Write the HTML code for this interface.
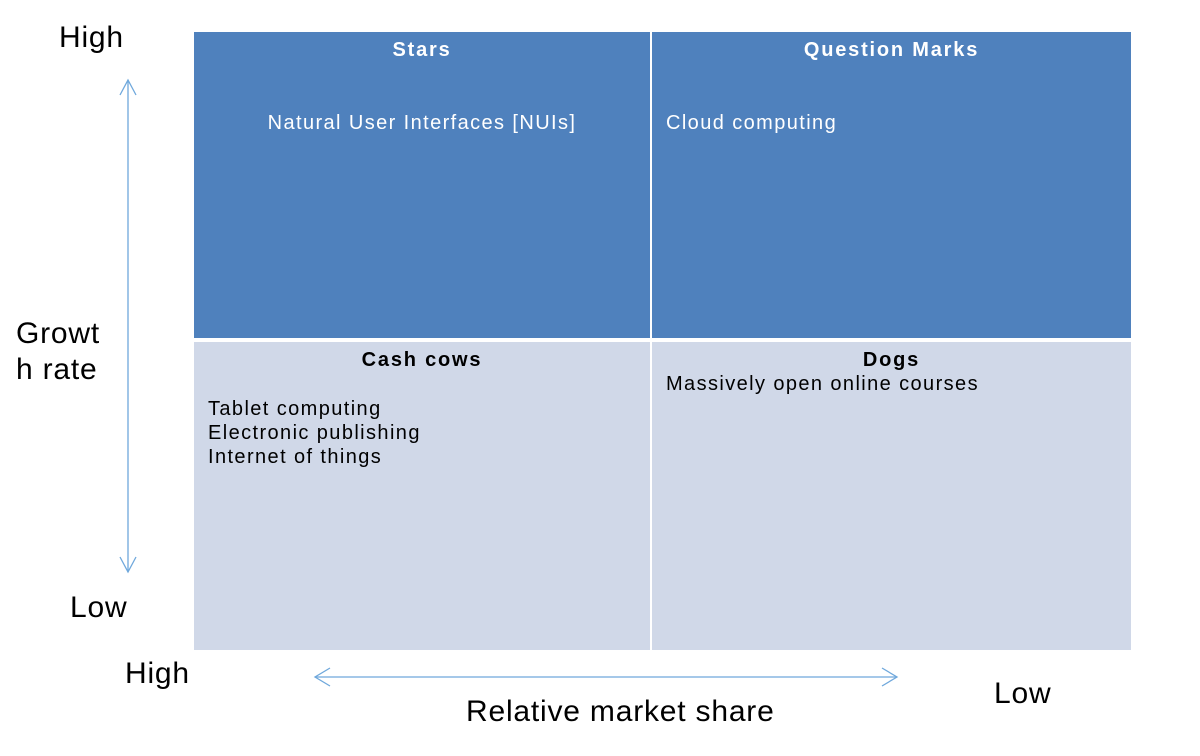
<!DOCTYPE html>
<html><head><style>
body{margin:0;width:1200px;height:756px;background:#fff;position:relative;overflow:hidden;font-family:"Liberation Sans",Arial,sans-serif}
.c{position:absolute}
.t{position:absolute;white-space:nowrap}
.big{font-size:30px;color:#000;letter-spacing:0.8px}
.w{color:#fff;font-size:20px;letter-spacing:1.4px}
.k{color:#000;font-size:20px;letter-spacing:1.4px}
b{font-weight:bold;letter-spacing:1.8px}
</style></head><body>
<div class="c" style="left:194px;top:32px;width:456px;height:306px;background:#4F81BD"></div>
<div class="c" style="left:652px;top:32px;width:479px;height:306px;background:#4F81BD"></div>
<div class="c" style="left:194px;top:342px;width:456px;height:308px;background:#D0D8E8"></div>
<div class="c" style="left:652px;top:342px;width:479px;height:308px;background:#D0D8E8"></div>

<div class="t w" style="left:194px;width:456px;text-align:center;top:39px"><b>Stars</b></div>
<div class="t w" style="left:194px;width:456px;text-align:center;top:112px">Natural User Interfaces [NUIs]</div>
<div class="t w" style="left:652px;width:479px;text-align:center;top:39px"><b>Question Marks</b></div>
<div class="t w" style="left:666px;top:112px">Cloud computing</div>
<div class="t k" style="left:194px;width:456px;text-align:center;top:349px"><b>Cash cows</b></div>
<div class="t k" style="left:208px;top:397px;line-height:24px">Tablet computing<br>Electronic publishing<br>Internet of things</div>
<div class="t k" style="left:652px;width:479px;text-align:center;top:349px"><b>Dogs</b></div>
<div class="t k" style="left:666px;top:373px">Massively open online courses</div>

<div class="t big" style="left:59px;top:21px">High</div>
<div class="t big" style="left:16px;top:316px;line-height:36px">Growt<br>h rate</div>
<div class="t big" style="left:70px;top:591px">Low</div>
<div class="t big" style="left:125px;top:657px">High</div>
<div class="t big" style="left:994px;top:677px">Low</div>
<div class="t big" style="left:466px;top:695px">Relative market share</div>

<svg class="c" style="left:0;top:0" width="1200" height="756">
<g stroke="#6FA8DC" stroke-width="1.3" fill="none">
<line x1="128" y1="80" x2="128" y2="572"/>
<polyline points="120,95 128,80 136,95"/>
<polyline points="120,557 128,572 136,557"/>
<line x1="315" y1="677" x2="897" y2="677"/>
<polyline points="330,668 315,677 330,686"/>
<polyline points="882,668 897,677 882,686"/>
</g>
</svg>
</body></html>
